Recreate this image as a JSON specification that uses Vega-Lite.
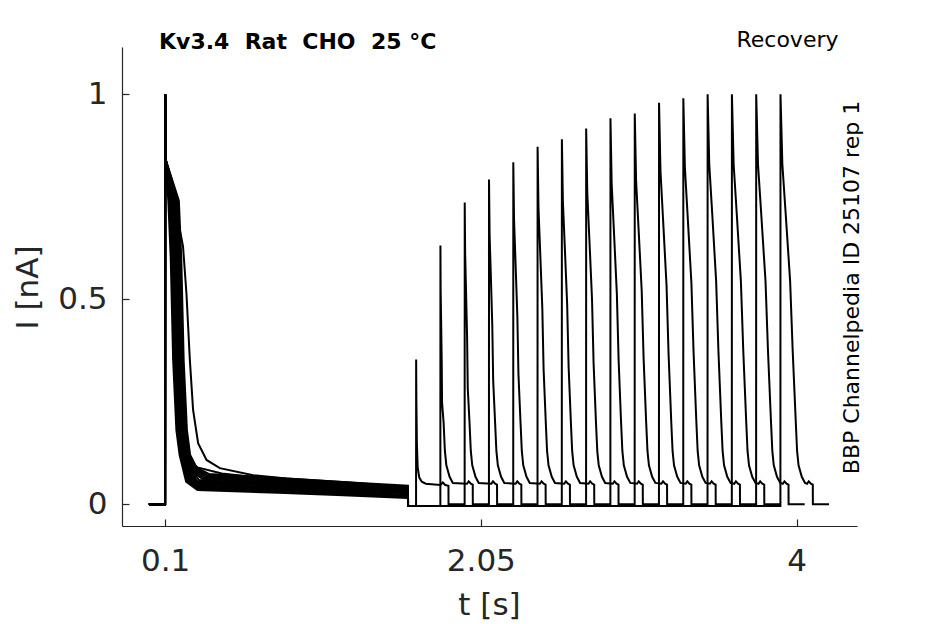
{
  "$schema": "https://vega.github.io/schema/vega-lite/v6.json",
  "width": 735,
  "height": 479,
  "autosize": {"type": "none"},
  "padding": {"left": 122, "top": 47, "right": 88, "bottom": 98},
  "background": "white",
  "title": {"text": "Kv3.4\u00a0 Rat\u00a0 CHO\u00a0 25 °C", "anchor": "start", "frame": "group", "font": "DejaVu Sans", "fontSize": 22, "fontWeight": "bold", "color": "black", "offset": 0, "dx": 37, "dy": 43, "baseline": "alphabetic"},
  "config": {"view": {"stroke": null}},
  "data": {"values": [
    {"k":0,"t":0,"i":0},{"k":0,"t":0.1,"i":0},{"k":0,"t":0.1005,"i":1},{"k":0,"t":0.104,"i":0.84},{"k":0,"t":0.12,"i":0.74},{"k":0,"t":0.135,"i":0.6},{"k":0,"t":0.15,"i":0.35},{"k":0,"t":0.17,"i":0.18},{"k":0,"t":0.19,"i":0.12},{"k":0,"t":0.23,"i":0.055},{"k":0,"t":0.3,"i":0.035},{"k":0,"t":0.8,"i":0.028},{"k":0,"t":1.2,"i":0.022},{"k":0,"t":1.6,"i":0.015},{"k":0,"t":1.6005,"i":-0.004},
    {"k":0,"t":1.65,"i":-0.004},{"k":0,"t":1.6505,"i":0.353},{"k":0,"t":1.652,"i":0.25},{"k":0,"t":1.655,"i":0.15},{"k":0,"t":1.66,"i":0.09},{"k":0,"t":1.67,"i":0.065},{"k":0,"t":1.685,"i":0.055},{"k":0,"t":1.71,"i":0.05},{"k":0,"t":1.8,"i":0.047},{"k":0,"t":1.815,"i":0.053},{"k":0,"t":1.83,"i":0.047},{"k":0,"t":1.85,"i":0.045},{"k":0,"t":1.8505,"i":0},{"k":0,"t":1.95,"i":0},

    {"k":1,"t":0,"i":0},{"k":1,"t":0.1,"i":0},{"k":1,"t":0.1005,"i":1},{"k":1,"t":0.104,"i":0.84},{"k":1,"t":0.125,"i":0.74},{"k":1,"t":0.14,"i":0.6},{"k":1,"t":0.155,"i":0.35},{"k":1,"t":0.175,"i":0.18},{"k":1,"t":0.195,"i":0.12},{"k":1,"t":0.235,"i":0.058},{"k":1,"t":0.3,"i":0.038},{"k":1,"t":0.8,"i":0.031},{"k":1,"t":1.2,"i":0.025},{"k":1,"t":1.6,"i":0.017},{"k":1,"t":1.6005,"i":-0.004},
    {"k":1,"t":1.8,"i":-0.004},{"k":1,"t":1.8005,"i":0.631},{"k":1,"t":1.8017,"i":0.526},{"k":1,"t":1.8046,"i":0.451},{"k":1,"t":1.8083,"i":0.352},{"k":1,"t":1.8105,"i":0.248},{"k":1,"t":1.82,"i":0.2},{"k":1,"t":1.828,"i":0.13},{"k":1,"t":1.837,"i":0.095},{"k":1,"t":1.857,"i":0.067},{"k":1,"t":1.877,"i":0.052},{"k":1,"t":1.965,"i":0.05},{"k":1,"t":1.975,"i":0.056},{"k":1,"t":1.988,"i":0.05},{"k":1,"t":2.0,"i":0.048},{"k":1,"t":2.0005,"i":0},{"k":1,"t":2.1,"i":0},

    {"k":2,"t":0,"i":0},{"k":2,"t":0.1,"i":0},{"k":2,"t":0.1005,"i":1},{"k":2,"t":0.104,"i":0.84},{"k":2,"t":0.13,"i":0.74},{"k":2,"t":0.145,"i":0.6},{"k":2,"t":0.16,"i":0.35},{"k":2,"t":0.18,"i":0.18},{"k":2,"t":0.2,"i":0.12},{"k":2,"t":0.24,"i":0.061},{"k":2,"t":0.3,"i":0.041},{"k":2,"t":0.8,"i":0.034},{"k":2,"t":1.2,"i":0.027},{"k":2,"t":1.6,"i":0.019},{"k":2,"t":1.6005,"i":-0.004},
    {"k":2,"t":1.95,"i":-0.004},{"k":2,"t":1.9505,"i":0.736},{"k":2,"t":1.953,"i":0.613},{"k":2,"t":1.9584,"i":0.523},{"k":2,"t":1.9652,"i":0.407},{"k":2,"t":1.9692,"i":0.283},{"k":2,"t":1.98,"i":0.2},{"k":2,"t":1.988,"i":0.13},{"k":2,"t":1.997,"i":0.095},{"k":2,"t":2.017,"i":0.067},{"k":2,"t":2.037,"i":0.052},{"k":2,"t":2.115,"i":0.05},{"k":2,"t":2.125,"i":0.056},{"k":2,"t":2.138,"i":0.05},{"k":2,"t":2.15,"i":0.048},{"k":2,"t":2.1505,"i":0},{"k":2,"t":2.25,"i":0},

    {"k":3,"t":0,"i":0},{"k":3,"t":0.1,"i":0},{"k":3,"t":0.1005,"i":1},{"k":3,"t":0.104,"i":0.84},{"k":3,"t":0.135,"i":0.74},{"k":3,"t":0.15,"i":0.6},{"k":3,"t":0.165,"i":0.35},{"k":3,"t":0.185,"i":0.18},{"k":3,"t":0.205,"i":0.12},{"k":3,"t":0.245,"i":0.064},{"k":3,"t":0.3,"i":0.044},{"k":3,"t":0.8,"i":0.036},{"k":3,"t":1.2,"i":0.03},{"k":3,"t":1.6,"i":0.021},{"k":3,"t":1.6005,"i":-0.004},
    {"k":3,"t":2.1,"i":-0.004},{"k":3,"t":2.1005,"i":0.792},{"k":3,"t":2.1041,"i":0.658},{"k":3,"t":2.1114,"i":0.562},{"k":3,"t":2.1207,"i":0.436},{"k":3,"t":2.1262,"i":0.302},{"k":3,"t":2.138,"i":0.2},{"k":3,"t":2.146,"i":0.13},{"k":3,"t":2.155,"i":0.095},{"k":3,"t":2.175,"i":0.067},{"k":3,"t":2.195,"i":0.052},{"k":3,"t":2.265,"i":0.05},{"k":3,"t":2.275,"i":0.056},{"k":3,"t":2.288,"i":0.05},{"k":3,"t":2.3,"i":0.048},{"k":3,"t":2.3005,"i":0},{"k":3,"t":2.4,"i":0},

    {"k":4,"t":0,"i":0},{"k":4,"t":0.1,"i":0},{"k":4,"t":0.1005,"i":1},{"k":4,"t":0.104,"i":0.84},{"k":4,"t":0.14,"i":0.74},{"k":4,"t":0.155,"i":0.6},{"k":4,"t":0.17,"i":0.35},{"k":4,"t":0.19,"i":0.18},{"k":4,"t":0.21,"i":0.12},{"k":4,"t":0.25,"i":0.067},{"k":4,"t":0.3,"i":0.047},{"k":4,"t":0.8,"i":0.039},{"k":4,"t":1.2,"i":0.032},{"k":4,"t":1.6,"i":0.023},{"k":4,"t":1.6005,"i":-0.004},
    {"k":4,"t":2.25,"i":-0.004},{"k":4,"t":2.2505,"i":0.834},{"k":4,"t":2.2551,"i":0.693},{"k":4,"t":2.2641,"i":0.591},{"k":4,"t":2.2755,"i":0.458},{"k":4,"t":2.2823,"i":0.317},{"k":4,"t":2.295,"i":0.2},{"k":4,"t":2.303,"i":0.13},{"k":4,"t":2.312,"i":0.095},{"k":4,"t":2.332,"i":0.067},{"k":4,"t":2.352,"i":0.052},{"k":4,"t":2.415,"i":0.05},{"k":4,"t":2.425,"i":0.056},{"k":4,"t":2.438,"i":0.05},{"k":4,"t":2.45,"i":0.048},{"k":4,"t":2.4505,"i":0},{"k":4,"t":2.55,"i":0},

    {"k":5,"t":0,"i":0},{"k":5,"t":0.1,"i":0},{"k":5,"t":0.1005,"i":1},{"k":5,"t":0.104,"i":0.84},{"k":5,"t":0.145,"i":0.74},{"k":5,"t":0.16,"i":0.6},{"k":5,"t":0.175,"i":0.35},{"k":5,"t":0.195,"i":0.18},{"k":5,"t":0.215,"i":0.12},{"k":5,"t":0.255,"i":0.07},{"k":5,"t":0.3,"i":0.05},{"k":5,"t":0.8,"i":0.042},{"k":5,"t":1.2,"i":0.035},{"k":5,"t":1.6,"i":0.026},{"k":5,"t":1.6005,"i":-0.004},
    {"k":5,"t":2.4,"i":-0.004},{"k":5,"t":2.4005,"i":0.872},{"k":5,"t":2.4059,"i":0.724},{"k":5,"t":2.4163,"i":0.617},{"k":5,"t":2.4297,"i":0.477},{"k":5,"t":2.4376,"i":0.329},{"k":5,"t":2.451,"i":0.2},{"k":5,"t":2.459,"i":0.13},{"k":5,"t":2.468,"i":0.095},{"k":5,"t":2.488,"i":0.067},{"k":5,"t":2.508,"i":0.052},{"k":5,"t":2.565,"i":0.05},{"k":5,"t":2.575,"i":0.056},{"k":5,"t":2.588,"i":0.05},{"k":5,"t":2.6,"i":0.048},{"k":5,"t":2.6005,"i":0},{"k":5,"t":2.7,"i":0},

    {"k":6,"t":0,"i":0},{"k":6,"t":0.1,"i":0},{"k":6,"t":0.1005,"i":1},{"k":6,"t":0.104,"i":0.84},{"k":6,"t":0.15,"i":0.74},{"k":6,"t":0.165,"i":0.6},{"k":6,"t":0.18,"i":0.35},{"k":6,"t":0.2,"i":0.18},{"k":6,"t":0.22,"i":0.12},{"k":6,"t":0.26,"i":0.073},{"k":6,"t":0.3,"i":0.053},{"k":6,"t":0.8,"i":0.045},{"k":6,"t":1.2,"i":0.037},{"k":6,"t":1.6,"i":0.028},{"k":6,"t":1.6005,"i":-0.004},
    {"k":6,"t":2.55,"i":-0.004},{"k":6,"t":2.5505,"i":0.89},{"k":6,"t":2.5566,"i":0.739},{"k":6,"t":2.5682,"i":0.63},{"k":6,"t":2.5831,"i":0.487},{"k":6,"t":2.592,"i":0.336},{"k":6,"t":2.606,"i":0.2},{"k":6,"t":2.614,"i":0.13},{"k":6,"t":2.623,"i":0.095},{"k":6,"t":2.643,"i":0.067},{"k":6,"t":2.663,"i":0.052},{"k":6,"t":2.715,"i":0.05},{"k":6,"t":2.725,"i":0.056},{"k":6,"t":2.738,"i":0.05},{"k":6,"t":2.75,"i":0.048},{"k":6,"t":2.7505,"i":0},{"k":6,"t":2.85,"i":0},

    {"k":7,"t":0,"i":0},{"k":7,"t":0.1,"i":0},{"k":7,"t":0.1005,"i":1},{"k":7,"t":0.104,"i":0.84},{"k":7,"t":0.155,"i":0.74},{"k":7,"t":0.17,"i":0.6},{"k":7,"t":0.185,"i":0.35},{"k":7,"t":0.205,"i":0.18},{"k":7,"t":0.225,"i":0.12},{"k":7,"t":0.265,"i":0.076},{"k":7,"t":0.3,"i":0.056},{"k":7,"t":0.8,"i":0.048},{"k":7,"t":1.2,"i":0.04},{"k":7,"t":1.6,"i":0.03},{"k":7,"t":1.6005,"i":-0.004},
    {"k":7,"t":2.7,"i":-0.004},{"k":7,"t":2.7005,"i":0.916},{"k":7,"t":2.7073,"i":0.76},{"k":7,"t":2.7201,"i":0.648},{"k":7,"t":2.7366,"i":0.5},{"k":7,"t":2.7463,"i":0.344},{"k":7,"t":2.761,"i":0.2},{"k":7,"t":2.769,"i":0.13},{"k":7,"t":2.778,"i":0.095},{"k":7,"t":2.798,"i":0.067},{"k":7,"t":2.818,"i":0.052},{"k":7,"t":2.865,"i":0.05},{"k":7,"t":2.875,"i":0.056},{"k":7,"t":2.888,"i":0.05},{"k":7,"t":2.9,"i":0.048},{"k":7,"t":2.9005,"i":0},{"k":7,"t":3.0,"i":0},

    {"k":8,"t":0,"i":0},{"k":8,"t":0.1,"i":0},{"k":8,"t":0.1005,"i":1},{"k":8,"t":0.104,"i":0.84},{"k":8,"t":0.16,"i":0.74},{"k":8,"t":0.175,"i":0.6},{"k":8,"t":0.19,"i":0.35},{"k":8,"t":0.21,"i":0.18},{"k":8,"t":0.23,"i":0.12},{"k":8,"t":0.27,"i":0.079},{"k":8,"t":0.31,"i":0.059},{"k":8,"t":0.8,"i":0.05},{"k":8,"t":1.2,"i":0.042},{"k":8,"t":1.6,"i":0.032},{"k":8,"t":1.6005,"i":-0.004},
    {"k":8,"t":2.85,"i":-0.004},{"k":8,"t":2.8505,"i":0.941},{"k":8,"t":2.858,"i":0.781},{"k":8,"t":2.872,"i":0.665},{"k":8,"t":2.89,"i":0.513},{"k":8,"t":2.9007,"i":0.353},{"k":8,"t":2.916,"i":0.2},{"k":8,"t":2.924,"i":0.13},{"k":8,"t":2.933,"i":0.095},{"k":8,"t":2.953,"i":0.067},{"k":8,"t":2.973,"i":0.052},{"k":8,"t":3.015,"i":0.05},{"k":8,"t":3.025,"i":0.056},{"k":8,"t":3.038,"i":0.05},{"k":8,"t":3.05,"i":0.048},{"k":8,"t":3.0505,"i":0},{"k":8,"t":3.15,"i":0},

    {"k":9,"t":0,"i":0},{"k":9,"t":0.1,"i":0},{"k":9,"t":0.1005,"i":1},{"k":9,"t":0.104,"i":0.84},{"k":9,"t":0.165,"i":0.74},{"k":9,"t":0.18,"i":0.6},{"k":9,"t":0.195,"i":0.35},{"k":9,"t":0.215,"i":0.18},{"k":9,"t":0.235,"i":0.12},{"k":9,"t":0.275,"i":0.077},{"k":9,"t":0.33,"i":0.062},{"k":9,"t":0.8,"i":0.053},{"k":9,"t":1.2,"i":0.045},{"k":9,"t":1.6,"i":0.034},{"k":9,"t":1.6005,"i":-0.004},
    {"k":9,"t":3.0,"i":-0.004},{"k":9,"t":3.0005,"i":0.953},{"k":9,"t":3.0087,"i":0.79},{"k":9,"t":3.0239,"i":0.673},{"k":9,"t":3.0435,"i":0.52},{"k":9,"t":3.0551,"i":0.357},{"k":9,"t":3.071,"i":0.2},{"k":9,"t":3.079,"i":0.13},{"k":9,"t":3.088,"i":0.095},{"k":9,"t":3.108,"i":0.067},{"k":9,"t":3.128,"i":0.052},{"k":9,"t":3.165,"i":0.05},{"k":9,"t":3.175,"i":0.056},{"k":9,"t":3.188,"i":0.05},{"k":9,"t":3.2,"i":0.048},{"k":9,"t":3.2005,"i":0},{"k":9,"t":3.3,"i":0},

    {"k":10,"t":0,"i":0},{"k":10,"t":0.1,"i":0},{"k":10,"t":0.1005,"i":1},{"k":10,"t":0.104,"i":0.84},{"k":10,"t":0.17,"i":0.74},{"k":10,"t":0.185,"i":0.6},{"k":10,"t":0.2,"i":0.35},{"k":10,"t":0.22,"i":0.18},{"k":10,"t":0.24,"i":0.12},{"k":10,"t":0.28,"i":0.08},{"k":10,"t":0.34,"i":0.065},{"k":10,"t":0.8,"i":0.056},{"k":10,"t":1.2,"i":0.047},{"k":10,"t":1.6,"i":0.036},{"k":10,"t":1.6005,"i":-0.004},
    {"k":10,"t":3.15,"i":-0.004},{"k":10,"t":3.1505,"i":0.979},{"k":10,"t":3.1594,"i":0.812},{"k":10,"t":3.1758,"i":0.691},{"k":10,"t":3.1969,"i":0.533},{"k":10,"t":3.2094,"i":0.366},{"k":10,"t":3.226,"i":0.2},{"k":10,"t":3.234,"i":0.13},{"k":10,"t":3.243,"i":0.095},{"k":10,"t":3.263,"i":0.067},{"k":10,"t":3.283,"i":0.052},{"k":10,"t":3.315,"i":0.05},{"k":10,"t":3.325,"i":0.056},{"k":10,"t":3.338,"i":0.05},{"k":10,"t":3.35,"i":0.048},{"k":10,"t":3.3505,"i":0},{"k":10,"t":3.45,"i":0},

    {"k":11,"t":0,"i":0},{"k":11,"t":0.1,"i":0},{"k":11,"t":0.1005,"i":1},{"k":11,"t":0.104,"i":0.84},{"k":11,"t":0.175,"i":0.74},{"k":11,"t":0.19,"i":0.6},{"k":11,"t":0.205,"i":0.35},{"k":11,"t":0.225,"i":0.18},{"k":11,"t":0.245,"i":0.12},{"k":11,"t":0.285,"i":0.083},{"k":11,"t":0.35,"i":0.068},{"k":11,"t":0.8,"i":0.059},{"k":11,"t":1.2,"i":0.05},{"k":11,"t":1.6,"i":0.038},{"k":11,"t":1.6005,"i":-0.004},
    {"k":11,"t":3.3,"i":-0.004},{"k":11,"t":3.3005,"i":0.99},{"k":11,"t":3.3101,"i":0.821},{"k":11,"t":3.3277,"i":0.699},{"k":11,"t":3.3504,"i":0.539},{"k":11,"t":3.3638,"i":0.37},{"k":11,"t":3.381,"i":0.2},{"k":11,"t":3.389,"i":0.13},{"k":11,"t":3.398,"i":0.095},{"k":11,"t":3.418,"i":0.067},{"k":11,"t":3.438,"i":0.052},{"k":11,"t":3.465,"i":0.05},{"k":11,"t":3.475,"i":0.056},{"k":11,"t":3.488,"i":0.05},{"k":11,"t":3.5,"i":0.048},{"k":11,"t":3.5005,"i":0},{"k":11,"t":3.6,"i":0},

    {"k":12,"t":0,"i":0},{"k":12,"t":0.1,"i":0},{"k":12,"t":0.1005,"i":1},{"k":12,"t":0.104,"i":0.84},{"k":12,"t":0.18,"i":0.74},{"k":12,"t":0.195,"i":0.6},{"k":12,"t":0.21,"i":0.35},{"k":12,"t":0.23,"i":0.18},{"k":12,"t":0.25,"i":0.12},{"k":12,"t":0.29,"i":0.086},{"k":12,"t":0.36,"i":0.071},{"k":12,"t":0.8,"i":0.062},{"k":12,"t":1.2,"i":0.052},{"k":12,"t":1.6,"i":0.04},{"k":12,"t":1.6005,"i":-0.004},
    {"k":12,"t":3.45,"i":-0.004},{"k":12,"t":3.4505,"i":1},{"k":12,"t":3.4606,"i":0.829},{"k":12,"t":3.4793,"i":0.706},{"k":12,"t":3.5031,"i":0.544},{"k":12,"t":3.5173,"i":0.373},{"k":12,"t":3.535,"i":0.2},{"k":12,"t":3.543,"i":0.13},{"k":12,"t":3.552,"i":0.095},{"k":12,"t":3.572,"i":0.067},{"k":12,"t":3.592,"i":0.052},{"k":12,"t":3.615,"i":0.05},{"k":12,"t":3.625,"i":0.056},{"k":12,"t":3.638,"i":0.05},{"k":12,"t":3.65,"i":0.048},{"k":12,"t":3.6505,"i":0},{"k":12,"t":3.75,"i":0},

    {"k":13,"t":0,"i":0},{"k":13,"t":0.1,"i":0},{"k":13,"t":0.1005,"i":1},{"k":13,"t":0.104,"i":0.84},{"k":13,"t":0.185,"i":0.74},{"k":13,"t":0.2,"i":0.6},{"k":13,"t":0.215,"i":0.35},{"k":13,"t":0.235,"i":0.18},{"k":13,"t":0.255,"i":0.12},{"k":13,"t":0.295,"i":0.089},{"k":13,"t":0.37,"i":0.074},{"k":13,"t":0.8,"i":0.064},{"k":13,"t":1.2,"i":0.054},{"k":13,"t":1.6,"i":0.042},{"k":13,"t":1.6005,"i":-0.004},
    {"k":13,"t":3.6,"i":-0.004},{"k":13,"t":3.6005,"i":1},{"k":13,"t":3.6112,"i":0.829},{"k":13,"t":3.6308,"i":0.706},{"k":13,"t":3.6559,"i":0.544},{"k":13,"t":3.6708,"i":0.373},{"k":13,"t":3.689,"i":0.2},{"k":13,"t":3.697,"i":0.13},{"k":13,"t":3.706,"i":0.095},{"k":13,"t":3.726,"i":0.067},{"k":13,"t":3.746,"i":0.052},{"k":13,"t":3.765,"i":0.05},{"k":13,"t":3.775,"i":0.056},{"k":13,"t":3.788,"i":0.05},{"k":13,"t":3.8,"i":0.048},{"k":13,"t":3.8005,"i":0},{"k":13,"t":3.9,"i":0},

    {"k":14,"t":0,"i":0},{"k":14,"t":0.1,"i":0},{"k":14,"t":0.1005,"i":1},{"k":14,"t":0.104,"i":0.84},{"k":14,"t":0.13,"i":0.76},{"k":14,"t":0.16,"i":0.7},{"k":14,"t":0.175,"i":0.55},{"k":14,"t":0.19,"i":0.35},{"k":14,"t":0.21,"i":0.16},{"k":14,"t":0.24,"i":0.11},{"k":14,"t":0.3,"i":0.09},{"k":14,"t":0.45,"i":0.075},{"k":14,"t":0.8,"i":0.06},{"k":14,"t":1.2,"i":0.05},{"k":14,"t":1.6,"i":0.04},{"k":14,"t":1.6005,"i":-0.004},
    {"k":14,"t":3.75,"i":-0.004},{"k":14,"t":3.7505,"i":1},{"k":14,"t":3.7616,"i":0.829},{"k":14,"t":3.7819,"i":0.706},{"k":14,"t":3.808,"i":0.544},{"k":14,"t":3.8234,"i":0.373},{"k":14,"t":3.842,"i":0.2},{"k":14,"t":3.85,"i":0.13},{"k":14,"t":3.859,"i":0.095},{"k":14,"t":3.879,"i":0.067},{"k":14,"t":3.899,"i":0.052},{"k":14,"t":3.915,"i":0.05},{"k":14,"t":3.925,"i":0.056},{"k":14,"t":3.938,"i":0.05},{"k":14,"t":3.95,"i":0.048},{"k":14,"t":3.9505,"i":0},{"k":14,"t":4.05,"i":0},

    {"k":15,"t":0,"i":0},{"k":15,"t":0.1,"i":0},{"k":15,"t":0.1005,"i":1},{"k":15,"t":0.104,"i":0.84},{"k":15,"t":0.14,"i":0.76},{"k":15,"t":0.18,"i":0.693},{"k":15,"t":0.211,"i":0.628},{"k":15,"t":0.232,"i":0.514},{"k":15,"t":0.253,"i":0.352},{"k":15,"t":0.273,"i":0.23},{"k":15,"t":0.304,"i":0.149},{"k":15,"t":0.356,"i":0.108},{"k":15,"t":0.438,"i":0.088},{"k":15,"t":0.644,"i":0.071},{"k":15,"t":0.85,"i":0.063},{"k":15,"t":1.16,"i":0.055},{"k":15,"t":1.6,"i":0.045},{"k":15,"t":1.6005,"i":-0.004},
    {"k":15,"t":3.9,"i":-0.004},{"k":15,"t":3.9005,"i":1},{"k":15,"t":3.912,"i":0.829},{"k":15,"t":3.933,"i":0.706},{"k":15,"t":3.96,"i":0.544},{"k":15,"t":3.976,"i":0.373},{"k":15,"t":3.995,"i":0.2},{"k":15,"t":4.003,"i":0.13},{"k":15,"t":4.012,"i":0.095},{"k":15,"t":4.032,"i":0.067},{"k":15,"t":4.052,"i":0.052},{"k":15,"t":4.065,"i":0.05},{"k":15,"t":4.075,"i":0.056},{"k":15,"t":4.088,"i":0.05},{"k":15,"t":4.1,"i":0.048},{"k":15,"t":4.1005,"i":0},{"k":15,"t":4.2,"i":0}
  ]},
  "layer": [
    {
      "mark": {"type": "line", "color": "black", "strokeWidth": 2},
      "encoding": {
        "x": {"field": "t", "type": "quantitative",
          "scale": {"domain": [-0.166, 4.373], "nice": false, "zero": false},
          "axis": {"orient": "bottom", "values": [0.1, 2.05, 4], "format": ".3~g", "title": "t [s]", "grid": false,
            "domainColor": "#262626", "domainWidth": 1.2, "tickColor": "#262626", "tickWidth": 1.2, "tickSize": -7,
            "labelFont": "DejaVu Sans", "labelFontSize": 31, "labelColor": "#262626", "labelPadding": 27, "labelFlush": false, "labelOverlap": false,
            "titleFont": "DejaVu Sans", "titleFontSize": 31, "titleFontWeight": "normal", "titleColor": "#262626",
            "titleX": 367, "titleY": 88, "titleBaseline": "alphabetic", "titleAlign": "center"}},
        "y": {"field": "i", "type": "quantitative",
          "scale": {"domain": [-0.053, 1.115], "nice": false, "zero": false},
          "axis": {"orient": "left", "values": [0, 0.5, 1], "format": ".3~g", "title": "I [nA]", "grid": false,
            "domainColor": "#262626", "domainWidth": 1.2, "tickColor": "#262626", "tickWidth": 1.2, "tickSize": -7,
            "labelFont": "DejaVu Sans", "labelFontSize": 31, "labelColor": "#262626", "labelPadding": 22, "labelFlush": false, "labelOverlap": false,
            "titleFont": "DejaVu Sans", "titleFontSize": 31, "titleFontWeight": "normal", "titleColor": "#262626",
            "titleAngle": 270, "titleX": -85, "titleY": 240, "titleBaseline": "alphabetic", "titleAlign": "center"}},
        "detail": {"field": "k", "type": "nominal"}
      }
    },
    {
      "mark": {"type": "line", "opacity": 0},
      "encoding": {
        "x": {"field": "t", "type": "quantitative",
          "axis": {"orient": "top", "title": "Recovery", "grid": false, "domain": false, "ticks": false, "labels": false,
            "titleFont": "DejaVu Sans", "titleFontSize": 22, "titleFontWeight": "normal", "titleColor": "black",
            "titleX": 716, "titleY": -1, "titleAlign": "right", "titleBaseline": "alphabetic", "titleAngle": 0}},
        "y": {"field": "i", "type": "quantitative",
          "axis": {"orient": "right", "title": "BBP Channelpedia ID 25107 rep 1", "grid": false, "domain": false, "ticks": false, "labels": false,
            "titleFont": "DejaVu Sans", "titleFontSize": 22, "titleFontWeight": "normal", "titleColor": "black",
            "titleX": 1, "titleY": 240, "titleAlign": "center", "titleBaseline": "alphabetic", "titleAngle": 270}},
        "detail": {"field": "k", "type": "nominal"}
      }
    }
  ],
  "resolve": {"axis": {"x": "independent", "y": "independent"}}
}
